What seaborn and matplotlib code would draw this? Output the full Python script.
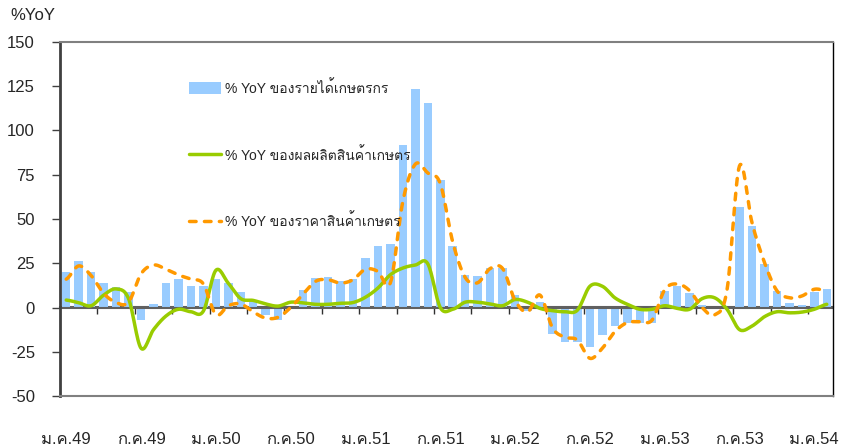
import numpy as np
import seaborn as sns
import matplotlib
matplotlib.use("Agg")
import matplotlib.pyplot as plt
from matplotlib.patches import Patch
from matplotlib.lines import Line2D

# monthly data, ม.ค.49 .. ก.พ.54
month_labels = ["ม.ค.49", "ก.ค.49", "ม.ค.50", "ก.ค.50", "ม.ค.51", "ก.ค.51",
                "ม.ค.52", "ก.ค.52", "ม.ค.53", "ก.ค.53", "ม.ค.54"]

income = [20, 26, 20, 14, 11.5, 9, -7, 2, 13.7, 16, 12, 12,
          16, 13.7, 9, 3, -4, -7, 0.5, 10, 16.5, 17, 15, 16,
          28, 34.5, 36, 92, 123.5, 115.5, 72, 35, 18.5, 18, 22.5, 22.5,
          7, -2, 3, -15, -19.5, -19.5, -22.5, -15.5, -10.5, -8.5, -9, -8.5,
          9.5, 12, 8, 1.5, -1, 0, 56.5, 46, 24.5, 9.5, 2.5, 1.5,
          8.5, 10.5]

production = [4.2, 2.7, 1, 7, 10.5, 5, -23, -12.5, -4.8, -1, -2.4, -2,
              21, 13.7, 5, 4, 2, 0.8, 3, 2.6, 1.8, 1.8, 2.4, 2.8,
              5.8, 11, 18.5, 22.3, 24, 24.7, 0, -1, 3, 3, 2, 1,
              4.5, 3, -0.5, -1.8, -2.4, -1.5, 12, 12, 5.5, 1.8, -1, -1,
              1, -0.5, -1, 5, 5.5, -1, -12.5, -10.5, -5.2, -2.4, -3, -2.6,
              -1, 1.8]

price = [16, 23.5, 18, 8, 2.8, 3, 19, 24, 21.6, 18.4, 16, 13.3,
         -4, 1, 2, -2.5, -6, -5.5, 0, 7.5, 14.8, 15.7, 13.8, 15.7,
         21.6, 20.4, 14, 60, 81, 76, 70, 37, 17, 14, 22, 22,
         4, -2.5, 7, -11.5, -16.8, -18.4, -28.7, -23, -13.7, -8.5, -8, -7,
         10, 13.3, 9.5, 0, -4.2, 10, 80, 48, 25.5, 9.5, 5.5, 6.5,
         10.3, 9.5]

legend_labels = ["% YoY ของรายได้เกษตรกร", "% YoY ของผลผลิตสินค้าเกษตร",
                 "% YoY ของราคาสินค้าเกษตร"]


def smooth(y, n=16):
    # excel-like smoothed line (catmull-rom through the points)
    y = np.asarray(y, dtype=float)
    p = np.concatenate([[y[0]], y, [y[-1]]])
    t = np.linspace(0, 1, n, endpoint=False)
    xs, ys = [], []
    for i in range(len(y) - 1):
        p0, p1, p2, p3 = p[i], p[i + 1], p[i + 2], p[i + 3]
        ys.append(0.5 * (2 * p1 + (p2 - p0) * t + (2 * p0 - 5 * p1 + 4 * p2 - p3) * t ** 2
                         + (3 * p1 - p0 - 3 * p2 + p3) * t ** 3))
        xs.append(i + t)
    xs.append([len(y) - 1])
    ys.append([y[-1]])
    return np.concatenate(xs), np.concatenate(ys)


sns.set_style("white")
plt.rcParams['font.family'] = ['Liberation Sans', 'Loma', 'Garuda', 'IBM Plex Sans Thai', 'DejaVu Sans']
plt.rcParams['axes.unicode_minus'] = False

BLUE = '#99CCFF'
GREEN = '#99CC00'
ORANGE = '#FF9900'

fig = plt.figure(figsize=(8.45, 4.48), dpi=100)
ax = fig.add_axes([60 / 845, 1 - 396 / 448, (833 - 60) / 845, (396 - 42) / 448])

idx = np.arange(len(income))
sns.barplot(x=idx, y=income, native_scale=True, color=BLUE, saturation=1,
            width=0.68, linewidth=0, ax=ax)

# zero line over the bars, under the lines
ax.axhline(0, color='#606060', lw=1.5, zorder=1.5)

gx, gy = smooth(production)
sns.lineplot(x=gx, y=gy, sort=False, estimator=None, color=GREEN, lw=2.5, ax=ax)
px, py = smooth(price)
sns.lineplot(x=px, y=py, sort=False, estimator=None, color=ORANGE, lw=2.5, ax=ax,
             linestyle=(0, (1.9, 2.4)), dash_capstyle='round')

ax.set_xlim(-0.5, len(income) - 0.5)
ax.set_ylim(-50, 150)
ax.set_yticks(np.arange(-50, 151, 25))
ax.tick_params(axis='y', direction='out', length=6, width=1, color='#404040',
               labelsize=12, pad=12, left=True)
ax.set_xticks(np.arange(0, len(income), 6))
ax.set_xticklabels(month_labels)
ax.tick_params(axis='x', length=0, labelsize=12, pad=26)
ax.set_xlabel('')
ax.set_ylabel('')

for side, c, w in [('left', '#404040', 2), ('top', '#808080', 1.5),
                   ('bottom', '#808080', 1.5), ('right', '#000000', 1)]:
    ax.spines[side].set_visible(True)
    ax.spines[side].set_color(c)
    ax.spines[side].set_linewidth(w)

# tick marks hanging from the zero line
zero = ax.secondary_xaxis(0.25)
zero.set_xticks(np.arange(2.5, len(income) - 1, 3))
zero.set_xticklabels([])
zero.tick_params(axis='x', direction='out', length=5, width=1, color='#303030')
zero.spines['bottom'].set_color('#606060')
zero.spines['bottom'].set_linewidth(1.5)

fig.text(10 / 845, 1 - 15 / 448, "%YoY", fontsize=12, va='center', ha='left')

handles = [Patch(facecolor=BLUE, edgecolor='none'),
           Line2D([], [], color=GREEN, lw=2.5),
           Line2D([], [], color=ORANGE, lw=2.5, linestyle=(0, (1.9, 2.4)), dash_capstyle='round')]
ax.legend(handles, legend_labels, loc='upper left', bbox_to_anchor=(189 / 845, 1 - 80 / 448),
          bbox_transform=fig.transFigure, frameon=False, fontsize=10, borderpad=0,
          borderaxespad=0, labelspacing=3.65, handlelength=2.3, handletextpad=0.3,
          handleheight=0.9)

fig.savefig("out.png")
